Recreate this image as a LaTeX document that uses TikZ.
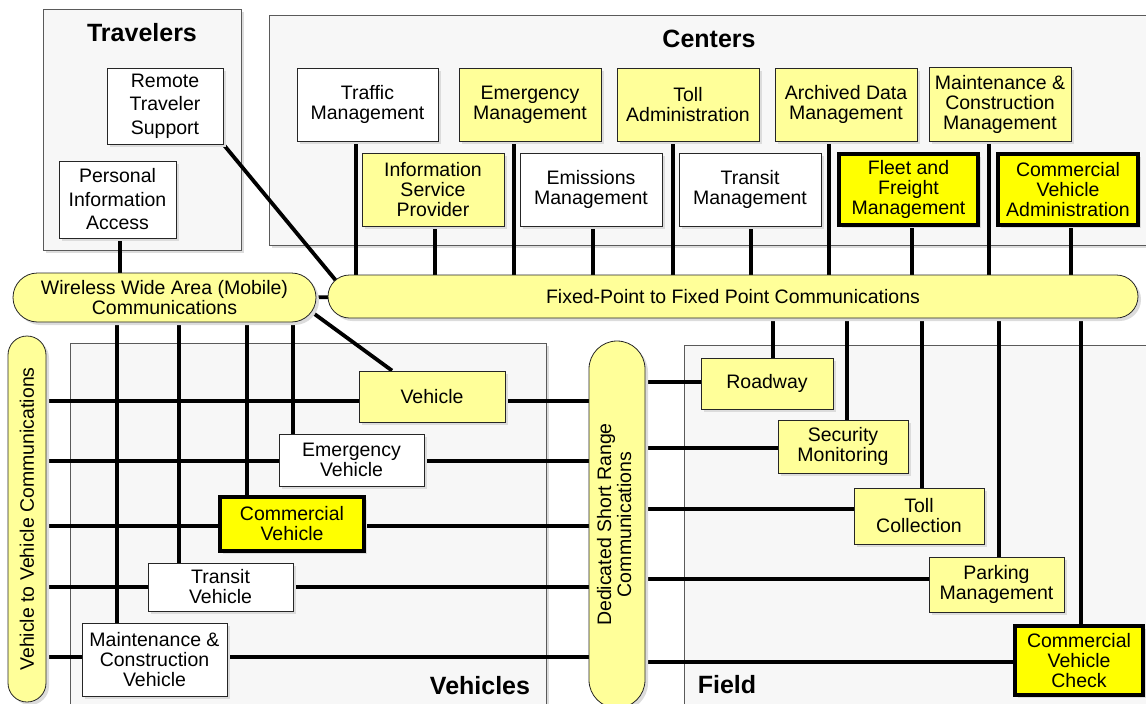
\documentclass[tikz,border=0pt]{standalone}
\usepackage{fontspec}
\setmainfont{Liberation Sans}
\usepackage{graphicx}
\usetikzlibrary{shadows,calc}
\definecolor{lyel}{HTML}{FFFF99}
\definecolor{byel}{HTML}{FFFF00}
\definecolor{contf}{HTML}{F7F7F7}
\definecolor{contline}{HTML}{5A5A5A}
\definecolor{shadc}{HTML}{DCDCDC}
\pgfdeclarelayer{back}
\pgfdeclarelayer{mid}
\pgfsetlayers{back,mid,main}
\newcommand{\nf}{\fontsize{19.5}{20}\selectfont}
\newcommand{\wf}{\fontsize{19.5}{23.5}\selectfont}
\newcommand{\tf}{\fontsize{25}{28}\selectfont\bfseries}
\begin{document}
\begin{tikzpicture}[x=1pt,y=-1pt,
  shad/.style={drop shadow={fill=shadc,opacity=1,shadow xshift=3pt,shadow yshift=-3pt}},
  cont/.style={draw=contline,fill=contf,line width=0.8pt,shad},
  box/.style={draw=black!85,fill=white,line width=0.8pt,inner sep=0pt,align=center,font=\nf,shad},
  lbox/.style={box,fill=lyel},
  hbox/.style={box,fill=byel,draw=black,line width=4pt},
  stad/.style={draw=black!85,fill=lyel,line width=0.8pt,inner sep=0pt,font=\nf,shad},
  conn/.style={line width=3.8pt},
  ttl/.style={font=\tf,inner sep=0pt}
]
\useasboundingbox (0,0) rectangle (1146,704);
\clip (0,0) rectangle (1146,704);

% ---------- containers ----------
\begin{pgfonlayer}{back}
\clip (0,0) rectangle (1146,704);
\path[cont] (43,9) rectangle (241,250);
\path[cont] (269,15) rectangle (1170,245);
\path[cont] (70,343) rectangle (546,730);
\path[cont] (684,345) rectangle (1170,730);
\node[ttl] (tTrav) at (142,33) {Travelers};
\node[ttl] (tCent) at (709,39) {Centers};
\node[ttl] (tVeh) at (480,686) {Vehicles};
\node[ttl] (tField) at (727,685) {Field};
\end{pgfonlayer}

% ---------- travelers ----------
\node[box,font=\wf,minimum width=116,minimum height=76] (rts) at (165,106) {Remote\\Traveler\\Support};
\node[box,font=\wf,minimum width=117,minimum height=77] (pia) at (117.5,199.5) {Personal\\Information\\Access};

% ---------- centers ----------
\node[box,minimum width=141,minimum height=73] (traffic) at (367.5,104.5) {Traffic\\Management};
\node[lbox,minimum width=142,minimum height=73] (emerg) at (530,104.5) {Emergency\\Management};
\node[lbox,minimum width=142,minimum height=73] (tolla) at (688,104.5) {Toll\\Administration};
\node[lbox,minimum width=142,minimum height=73] (arch) at (846,104.5) {Archived Data\\Management};
\node[lbox,minimum width=142,minimum height=74] (maint) at (1000,104) {Maintenance \&\\Construction\\Management};
\node[lbox,minimum width=142,minimum height=73] (isp) at (433,189.5) {Information\\Service\\Provider};
\node[box,minimum width=142,minimum height=73] (emis) at (591,189.5) {Emissions\\Management};
\node[box,minimum width=142,minimum height=73] (transm) at (750,189.5) {Transit\\Management};
\node[hbox,minimum width=139,minimum height=71] (fleet) at (908.5,189.5) {Fleet and\\Freight\\Management};
\node[hbox,minimum width=140,minimum height=71] (cva) at (1068,189.5) {Commercial\\Vehicle\\Administration};

% ---------- communications ----------
\node[stad,rounded corners=24.5pt,minimum width=303,minimum height=49,align=center] (wireless) at (164.5,297.5) {Wireless Wide Area (Mobile)\\Communications};
\node[stad,rounded corners=21.5pt,minimum width=810,minimum height=43] (fixed) at (733,296.5) {Fixed-Point to Fixed Point Communications};
\node[stad,rounded corners=19pt,minimum width=38,minimum height=366] (v2v) at (27,519) {\rotatebox{90}{Vehicle to Vehicle Communications}};
\node[stad,rounded corners=28pt,minimum width=56,minimum height=367] (dsrc) at (617,524.5) {\rotatebox{90}{\begin{tabular}{@{}c@{}}Dedicated Short Range\\Communications\end{tabular}}};

% ---------- vehicles ----------
\node[lbox,minimum width=146,minimum height=51] (vehicle) at (432,396.5) {Vehicle};
\node[box,minimum width=145,minimum height=52] (ev) at (351.5,460) {Emergency\\Vehicle};
\node[hbox,minimum width=144,minimum height=54] (cv) at (292,524) {Commercial\\Vehicle};
\node[box,minimum width=145,minimum height=48] (tv) at (220.5,587) {Transit\\Vehicle};
\node[box,minimum width=145,minimum height=73] (mcv) at (154.5,659.5) {Maintenance \&\\Construction\\Vehicle};

% ---------- field ----------
\node[lbox,minimum width=132,minimum height=51] (road) at (767,383.5) {Roadway};
\node[lbox,minimum width=130,minimum height=53] (sec) at (843,446.5) {Security\\Monitoring};
\node[lbox,minimum width=130,minimum height=56] (tollc) at (919,516) {Toll\\Collection};
\node[lbox,minimum width=135,minimum height=55] (park) at (996.5,584.5) {Parking\\Management};
\node[hbox,minimum width=128,minimum height=69] (cvc) at (1079,660.5) {Commercial\\Vehicle\\Check};

% ---------- connector positions ----------
\coordinate (xTraffic) at (356,0);
\coordinate (xIsp) at (435,0);
\coordinate (xEmerg) at (514,0);
\coordinate (xEmis) at (593,0);
\coordinate (xTolla) at (673,0);
\coordinate (xTransm) at (751,0);
\coordinate (xArch) at (829,0);
\coordinate (xFleet) at (912,0);
\coordinate (xMaint) at (989,0);
\coordinate (xCva) at (1071,0);
\coordinate (xRoad) at (773,0);
\coordinate (xSec) at (847,0);
\coordinate (xTollc) at (922,0);
\coordinate (xPark) at (999,0);
\coordinate (xCvc) at (1081,0);
\coordinate (xPia) at (120,0);
\coordinate (xMcv) at (117,0);
\coordinate (xTv) at (179,0);
\coordinate (xCv) at (247,0);
\coordinate (xEv) at (293,0);
\coordinate (yVehicle) at (0,401);
\coordinate (yEv) at (0,461);
\coordinate (yCv) at (0,526);
\coordinate (yTv) at (0,587);
\coordinate (yMcv) at (0,657);
\coordinate (yRoad) at (0,382);
\coordinate (ySec) at (0,448);
\coordinate (yTollc) at (0,509);
\coordinate (yPark) at (0,579);
\coordinate (yCvc) at (0,662);

\begin{pgfonlayer}{mid}
% centers to fixed-point
\foreach \n/\c in {traffic/xTraffic,isp/xIsp,emerg/xEmerg,emis/xEmis,tolla/xTolla,transm/xTransm,arch/xArch,fleet/xFleet,maint/xMaint,cva/xCva}
  \draw[conn] (\n.south -| \c) -- (fixed.center -| \c);
% fixed-point to field
\foreach \n/\c in {road/xRoad,sec/xSec,tollc/xTollc,park/xPark,cvc/xCvc}
  \draw[conn] (fixed.center -| \c) -- (\n.center -| \c);
% dsrc to field
\foreach \n/\r in {road/yRoad,sec/ySec,tollc/yTollc,park/yPark,cvc/yCvc}
  \draw[conn] (dsrc.center |- \r) -- (\n.center |- \r);
% vehicle rows: v2v to dsrc
\foreach \r in {yVehicle,yEv,yCv,yTv,yMcv}
  \draw[conn] (v2v.center |- \r) -- (dsrc.center |- \r);
% wireless to vehicles
\foreach \n/\c in {mcv/xMcv,tv/xTv,cv/xCv,ev/xEv}
  \draw[conn] (wireless.center -| \c) -- (\n.center -| \c);
\draw[conn] (pia.center -| xPia) -- (wireless.center -| xPia);
\draw[conn] (wireless.center) -- (fixed.center);
\draw[conn] (rts.south east) -- ($(fixed.west)+(21.5,0)$);
\draw[conn] ($(wireless.east)+(-24.5,0)$) -- ($(vehicle.north)+(-40,0)$);
\end{pgfonlayer}
\end{tikzpicture}
\end{document}
